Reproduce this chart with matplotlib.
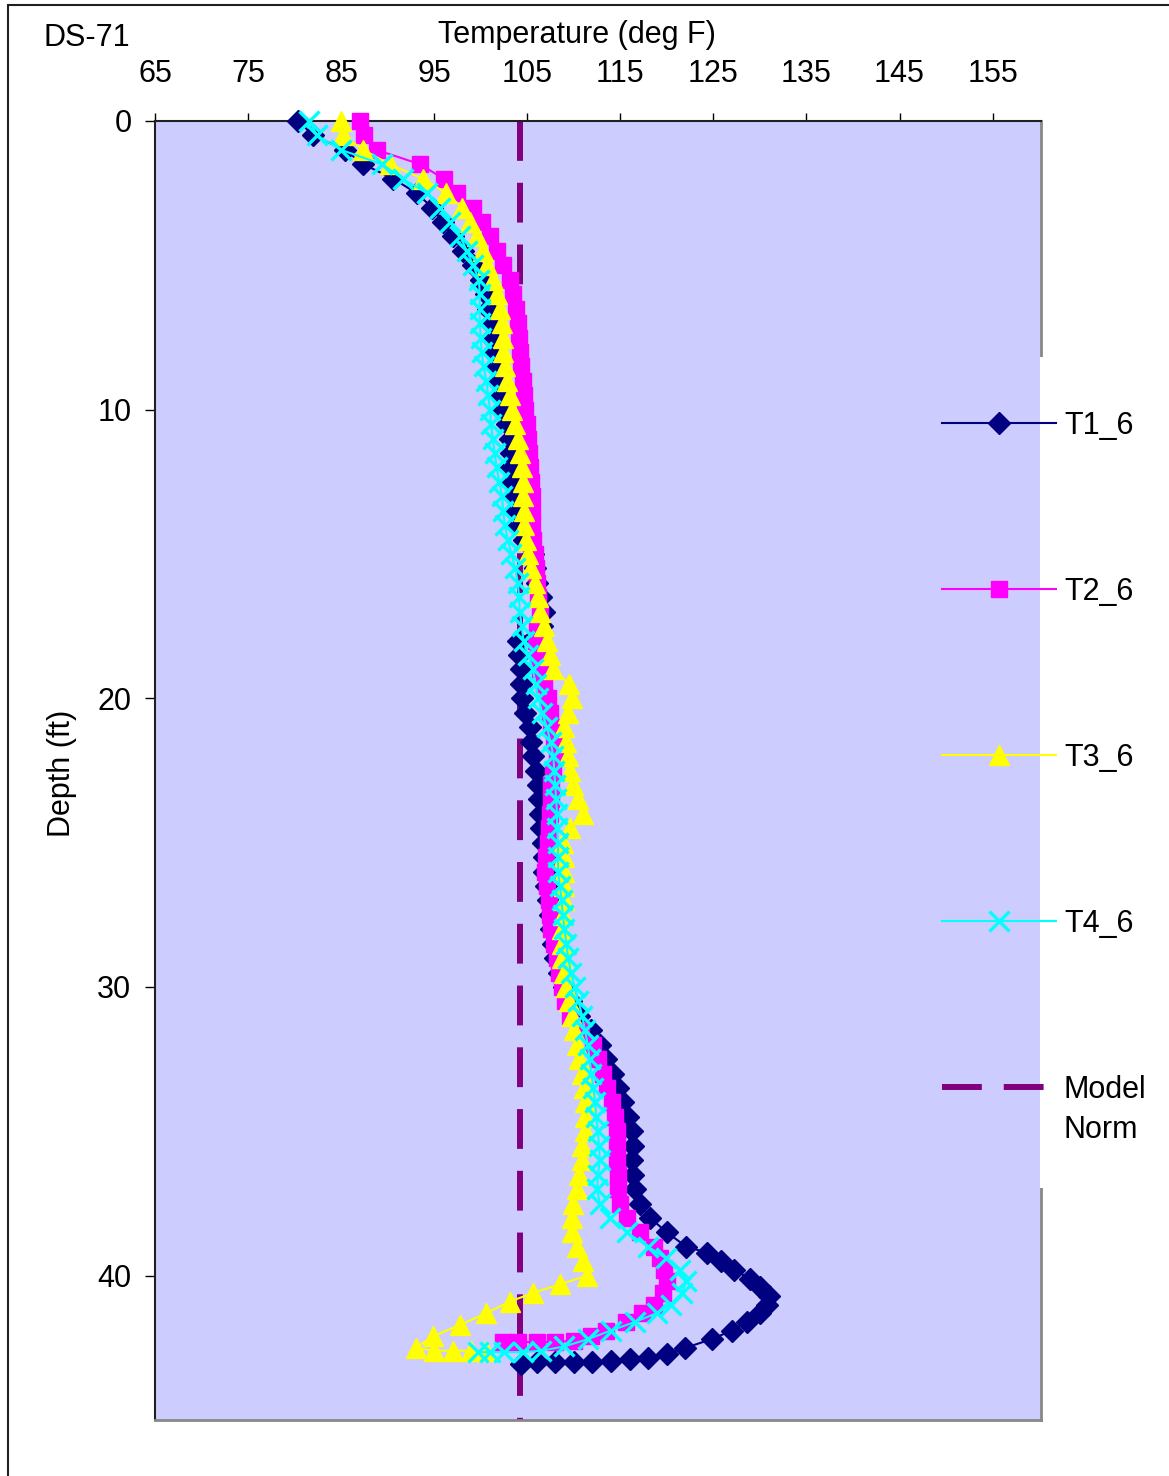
import matplotlib.pyplot as plt
from matplotlib.patches import Rectangle
from matplotlib.text import Annotation

plt.rcParams['font.family'] = ['Liberation Sans', 'DejaVu Sans']

# Depths (ft) shared by the upper part of all four profiles.
DEPTH = [0.0, 0.5, 1.0, 1.5, 2.0, 2.5, 3.0, 3.5, 4.0, 4.5,
         5.0, 5.5, 6.0, 6.5, 7.0, 7.5, 8.0, 8.5, 9.0, 9.5,
         10.0, 10.5, 11.0, 11.5, 12.0, 12.5, 13.0, 13.5, 14.0, 14.5,
         15.0, 15.5, 16.0, 16.5, 17.0, 17.5, 18.0, 18.5, 19.0, 19.5,
         20.0, 20.5, 21.0, 21.5, 22.0, 22.5, 23.0, 23.5, 24.0, 24.5,
         25.0, 25.5, 26.0, 26.5, 27.0, 27.5, 28.0, 28.5, 29.0, 29.5,
         30.0, 30.5, 31.0, 31.5, 32.0, 32.5, 33.0, 33.5, 34.0, 34.5,
         35.0, 35.5, 36.0, 36.5, 37.0, 37.5, 38.0, 38.5]

# Temperatures (deg F) at DEPTH.
T1_TEMP = [80.4, 82.0, 85.4, 87.4, 90.6, 93.1, 94.8, 95.9, 97.0, 98.1,
           99.2, 100.0, 100.6, 100.8, 101.0, 101.1, 101.3, 101.5, 101.7, 102.0,
           102.3, 102.8, 103.1, 103.2, 103.3, 103.4, 103.5, 103.7, 103.9, 104.6,
           105.6, 105.8, 106.0, 106.5, 106.8, 106.6, 104.0, 104.1, 104.3, 104.3,
           104.4, 104.8, 105.3, 105.4, 105.6, 105.9, 106.1, 106.3, 106.4, 106.5,
           106.7, 106.8, 106.8, 107.0, 107.2, 107.4, 107.6, 107.8, 108.0, 108.4,
           108.9, 109.7, 110.6, 111.8, 112.8, 113.5, 114.2, 114.8, 115.3, 115.8,
           116.2, 116.4, 116.3, 116.4, 116.6, 117.1, 118.2, 120.0]
T2_TEMP = [87.0, 87.5, 88.8, 93.5, 96.0, 97.4, 99.2, 100.1, 101.0, 101.7,
           102.4, 103.1, 103.5, 103.8, 104.0, 104.1, 104.2, 104.3, 104.5, 104.6,
           104.8, 105.0, 105.1, 105.2, 105.3, 105.4, 105.5, 105.5, 105.5, 105.6,
           105.8, 105.9, 106.0, 106.2, 106.4, 106.0, 105.9, 106.1, 106.4, 106.8,
           107.2, 107.4, 107.5, 107.9, 108.2, 107.8, 107.6, 107.5, 107.4, 107.3,
           107.2, 107.0, 106.9, 107.1, 107.3, 107.4, 107.6, 107.9, 108.2, 108.4,
           108.7, 109.1, 109.6, 110.8, 112.1, 112.6, 113.1, 113.6, 114.1, 114.4,
           114.6, 114.6, 114.6, 114.7, 114.8, 115.0, 115.7, 117.1]
T3_TEMP = [85.0, 85.2, 87.4, 90.2, 93.8, 96.3, 98.0, 98.8, 99.6, 100.2,
           100.7, 101.3, 101.8, 102.1, 102.3, 102.4, 102.4, 102.6, 102.8, 103.1,
           103.4, 103.7, 104.0, 104.2, 104.4, 104.5, 104.5, 104.6, 104.7, 104.9,
           105.1, 105.4, 105.8, 106.1, 106.4, 106.8, 107.1, 107.4, 107.8, 109.5,
           109.8, 109.4, 109.0, 109.2, 109.4, 109.6, 109.9, 110.4, 111.0, 109.6,
           108.8, 108.9, 108.9, 108.9, 108.9, 108.8, 108.7, 108.7, 108.7, 108.9,
           109.2, 109.5, 109.8, 110.0, 110.3, 110.6, 110.9, 111.1, 111.2, 111.2,
           111.2, 110.9, 110.9, 110.6, 110.3, 109.9, 109.8, 109.8]
T4_TEMP = [81.6, 82.4, 85.0, 89.4, 91.6, 94.2, 95.6, 96.7, 97.8, 98.5,
           99.2, 99.8, 99.9, 99.9, 99.9, 100.0, 100.1, 100.3, 100.6, 100.8,
           101.0, 101.1, 101.3, 101.5, 101.7, 102.0, 102.3, 102.4, 102.6, 102.9,
           103.3, 103.7, 104.0, 104.1, 104.2, 104.4, 104.6, 105.1, 105.6, 105.9,
           106.2, 106.6, 107.1, 107.5, 107.8, 107.9, 108.0, 108.1, 108.2, 108.2,
           108.3, 108.3, 108.3, 108.5, 108.7, 108.8, 109.0, 109.2, 109.4, 109.7,
           110.1, 110.5, 110.9, 111.2, 111.5, 111.7, 111.9, 112.1, 112.3, 112.4,
           112.6, 112.7, 112.8, 112.6, 112.5, 112.8, 113.9, 115.7]

# Bottom of each profile, where the readings hook back towards the hole.
T1_TAIL_DEPTH = [39.0, 39.2, 39.5, 39.8, 40.1, 40.4, 40.7, 41.0, 41.3, 41.6, 41.9,
                 42.2, 42.5, 42.7, 42.85, 42.9, 42.95, 43.0, 43.0, 43.0, 43.0, 43.05]
T1_TAIL_TEMP = [122.1, 124.3, 125.8, 127.2, 128.9, 130.0, 131.0, 130.8, 130.0, 128.6, 127.0,
                124.8, 122.0, 120.0, 118.0, 116.0, 114.0, 112.0, 110.0, 108.0, 106.0, 104.3]
T2_TAIL_DEPTH = [39.0, 39.4, 39.8, 40.2, 40.6, 41.0, 41.3, 41.6, 41.9, 42.1,
                 42.25, 42.3, 42.3, 42.3, 42.3]
T2_TAIL_TEMP = [118.6, 119.3, 119.7, 120.0, 119.6, 118.6, 117.3, 115.6, 113.5, 111.8,
                110.0, 108.0, 106.0, 104.0, 102.4]
T3_TAIL_DEPTH = [39.0, 39.5, 40.0, 40.3, 40.6, 40.9, 41.3, 41.7, 42.1, 42.5,
                 42.6, 42.6, 42.6, 42.6]
T3_TAIL_TEMP = [110.3, 111.0, 111.4, 108.5, 105.6, 103.1, 100.6, 97.8, 94.9, 93.0,
                95.0, 97.0, 99.0, 100.6]
T4_TAIL_DEPTH = [39.0, 39.4, 39.8, 40.2, 40.6, 41.0, 41.3, 41.6, 41.9, 42.2,
                 42.45, 42.6, 42.65, 42.65, 42.65, 42.65]
T4_TAIL_TEMP = [118.0, 119.9, 121.4, 122.1, 121.6, 120.4, 118.9, 116.6, 114.0, 111.5,
                109.0, 106.5, 104.5, 102.5, 101.0, 99.7]

MODEL_DEPTH = [0.0, 45.0]
MODEL_TEMP = [104.2, 104.2]

X_TICKS = [65, 75, 85, 95, 105, 115, 125, 135, 145, 155]
Y_TICKS = [0, 10, 20, 30, 40]

FONT = 22

fig = plt.figure(figsize=(11.69, 14.76), dpi=100)
ax = fig.add_axes([155 / 1169, 1 - 1420 / 1476, 886 / 1169, 1299 / 1476])
ax.set_facecolor('#CCCCFF')

ax.plot(MODEL_TEMP, MODEL_DEPTH, color='#800080', lw=4.3,
        dashes=(6.67, 3.67), zorder=2, label='Model')
h1, = ax.plot(T1_TEMP + T1_TAIL_TEMP, DEPTH + T1_TAIL_DEPTH, color='#000080',
              lw=1.5, marker='D', ms=11, zorder=3, clip_on=False, label='T1_6')
h2, = ax.plot(T2_TEMP + T2_TAIL_TEMP, DEPTH + T2_TAIL_DEPTH, color='#FF00FF',
              lw=1.5, marker='s', ms=12, zorder=4, clip_on=False, label='T2_6')
h3, = ax.plot(T3_TEMP + T3_TAIL_TEMP, DEPTH + T3_TAIL_DEPTH, color='#FFFF00',
              lw=1.5, marker='^', ms=15, zorder=5, clip_on=False, label='T3_6')
h4, = ax.plot(T4_TEMP + T4_TAIL_TEMP, DEPTH + T4_TAIL_DEPTH, color='#00FFFF',
              lw=1.5, marker='x', ms=14, mew=2.4, zorder=6, clip_on=False, label='T4_6')

ax.set_xlim(65, 160.2)
ax.set_ylim(45, 0)
ax.xaxis.tick_top()
ax.set_xticks(X_TICKS)
ax.set_yticks(Y_TICKS)
ax.tick_params(axis='x', length=6, width=1, pad=17, labelsize=FONT)
ax.tick_params(axis='y', length=7, width=1, pad=10, labelsize=FONT)
for side in ['top', 'left']:
    ax.spines[side].set_color('#202020')
    ax.spines[side].set_linewidth(1.5)
for side in ['bottom', 'right']:
    ax.spines[side].set_color('#888888')
    ax.spines[side].set_linewidth(2)

# Titles placed as in the original sheet.
fig.text(577 / 1169, 1 - 43 / 1476, 'Temperature (deg F)', ha='center',
         va='baseline', fontsize=FONT)
fig.text(43 / 1169, 1 - 46 / 1476, 'DS-71', ha='left', va='baseline', fontsize=FONT)
fig.text(62 / 1169, 1 - 773 / 1476, 'Depth (ft)', ha='center', va='center',
         rotation=90, fontsize=FONT)

# Outer chart border, running off the right and bottom edges.
fig.patches.append(Rectangle((8 / 1169, -0.1), 2, 1.1 - 5 / 1476, fill=False,
                             edgecolor='#202020', lw=1.5, transform=fig.transFigure))
# The legend box hides part of the right plot border.
fig.patches.append(Rectangle((1040 / 1169, 1 - 1188 / 1476), 8 / 1169, 831 / 1476,
                             facecolor='white', edgecolor='none', zorder=1,
                             transform=fig.transFigure))

model_handle = ax.get_lines()[0]
fs_px = FONT * 100 / 72
leg = fig.legend([h1, h2, h3, h4, model_handle], ['T1_6', 'T2_6', 'T3_6', 'T4_6', 'Model'],
                 loc='upper left', bbox_to_anchor=(942 / 1169, 1 - 411 / 1476),
                 frameon=False, borderpad=0, borderaxespad=0, fontsize=FONT,
                 handlelength=114 / fs_px, handletextpad=8 / fs_px,
                 labelspacing=136 / fs_px)
leg.set_zorder(5)
norm = Annotation('Norm', xy=(0, 0), xycoords=leg.get_texts()[4], xytext=(0, -40),
                  textcoords='offset pixels', ha='left', va='bottom', fontsize=FONT)
norm.set_zorder(6)
fig.add_artist(norm)

fig.savefig('out.png', dpi=100)
